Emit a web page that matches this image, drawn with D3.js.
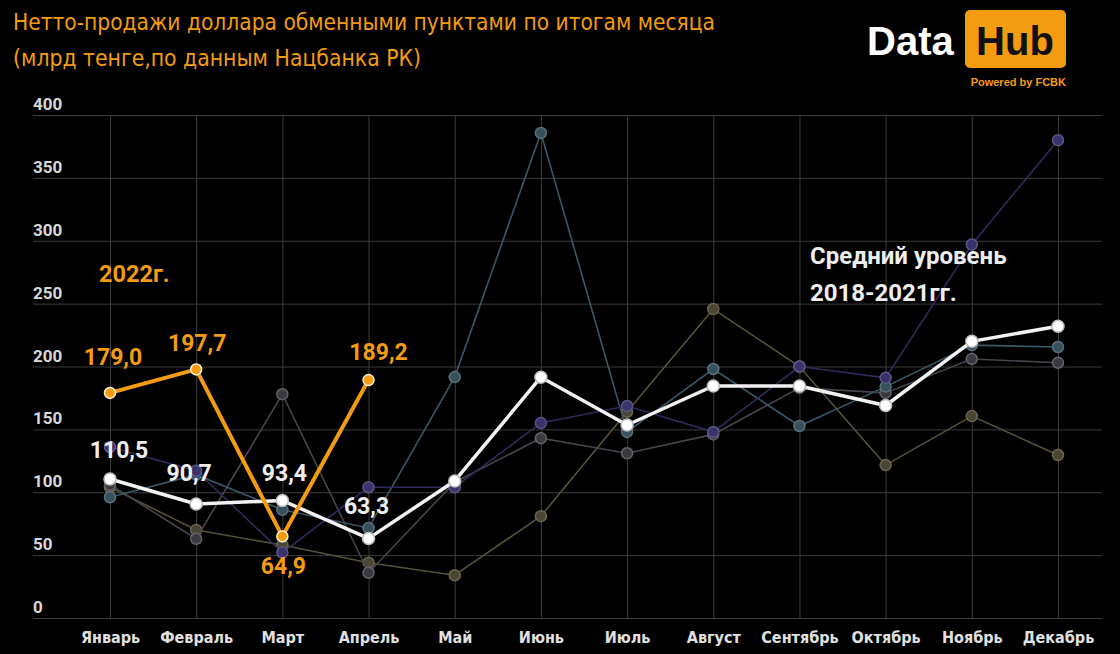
<!DOCTYPE html>
<html>
<head>
<meta charset="utf-8">
<script src="https://cdn.jsdelivr.net/npm/d3@7"></script>
<style>
  html, body { margin: 0; padding: 0; background: #000; }
  svg { display: block; }
</style>
</head>
<body>
<div id="chart"></div>
<script>
// data
const months = ["Январь", "Февраль", "Март", "Апрель", "Май", "Июнь", "Июль", "Август", "Сентябрь", "Октябрь", "Ноябрь", "Декабрь"];
const yTicks = [0, 50, 100, 150, 200, 250, 300, 350, 400];

// average 2018-2021 (white line)
const avgValues = [110.5, 90.7, 93.4, 63.3, 109, 191.5, 153.5, 184.5, 184.5, 169, 220, 232];
const avgLabels = ["110,5", "90,7", "93,4", "63,3"];

// 2022 (orange line)
const values2022 = [179.0, 197.7, 64.9, 189.2];
const labels2022 = ["179,0", "197,7", "64,9", "189,2"];

// single years in the background, faint
const yearPurple = [136, 117, 52, 104, 104, 155, 168.6, 148, 200, 191, 297, 380];
const yearTeal = [96, 114, 86, 71.6, 191.6, 385.7, 148, 198, 152.7, 184, 217, 215.5];
const yearOlive = [104, 70, 58, 44, 34, 81, 164, 245.7, 200, 121.6, 160.6, 129.6];
const yearGray = [106, 63, 178, 36, 108, 143, 131, 146, 183, 179, 206, 203];

const width = 1120;
const height = 654;

const svg = d3
  .select("#chart")
  .append("svg")
  .attr("width", width)
  .attr("height", height)
  .style("background", "#000");

const x = d3.scalePoint().domain(months).range([110, 1058]);
const y = d3.scaleLinear().domain([0, 400]).range([618, 115]);

const gridLeft = 33;
const gridRight = 1102;

// horizontal grid
svg
  .append("g")
  .selectAll("line")
  .data(yTicks)
  .enter()
  .append("line")
  .attr("x1", gridLeft)
  .attr("x2", gridRight)
  .attr("y1", (d) => y(d) + 0.5)
  .attr("y2", (d) => y(d) + 0.5)
  .attr("stroke", "#3c3c3c")
  .attr("stroke-width", 1);

// vertical grid
svg
  .append("g")
  .selectAll("line")
  .data(months)
  .enter()
  .append("line")
  .attr("x1", (d) => x(d) + 0.5)
  .attr("x2", (d) => x(d) + 0.5)
  .attr("y1", y(400))
  .attr("y2", y(0))
  .attr("stroke", "#3c3c3c")
  .attr("stroke-width", 1);

// y labels
svg
  .append("g")
  .selectAll("text")
  .data(yTicks)
  .enter()
  .append("text")
  .attr("x", gridLeft)
  .attr("y", (d) => y(d) - 5)
  .attr("font-family", "Roboto, sans-serif")
  .attr("font-weight", "bold")
  .attr("font-size", 17)
  .attr("fill", "#d8d8d8")
  .text((d) => d);

// x labels
const xAxis = d3.axisBottom(x).tickSize(0).tickPadding(14);
const xg = svg.append("g").attr("transform", `translate(0,${y(0)})`).call(xAxis);
xg.select(".domain").remove();
xg.selectAll("text")
  .attr("font-family", "'Liberation Sans Narrow', 'DejaVu Sans Condensed', sans-serif")
  .attr("font-weight", "bold")
  .attr("font-size", 16)
  .attr("fill", "#e0e0e0");

const line = d3
  .line()
  .x((d, i) => x(months[i]))
  .y((d) => y(d));

const faint = [
  { values: yearOlive, line: "#56513a", fill: "#4a4632", stroke: "#6a6650" },
  { values: yearGray, line: "#48434d", fill: "#3b393f", stroke: "#66626b" },
  { values: yearTeal, line: "#3a5765", fill: "#36505c", stroke: "#5a707c" },
  { values: yearPurple, line: "#2f2b5c", fill: "#38336c", stroke: "#5a5684" },
];

faint.forEach((s) => {
  const g = svg.append("g");
  g.append("path")
    .datum(s.values)
    .attr("d", line)
    .attr("fill", "none")
    .attr("stroke", s.line)
    .attr("stroke-width", 1.6);
  g.selectAll("circle")
    .data(s.values)
    .enter()
    .append("circle")
    .attr("cx", (d, i) => x(months[i]))
    .attr("cy", (d) => y(d))
    .attr("r", 5.5)
    .attr("fill", s.fill)
    .attr("stroke", s.stroke)
    .attr("stroke-width", 1.5);
});

// average line
svg
  .append("path")
  .datum(avgValues)
  .attr("d", line)
  .attr("fill", "none")
  .attr("stroke", "#f2f2f2")
  .attr("stroke-width", 3.5)
  .attr("stroke-linejoin", "round");

svg
  .append("g")
  .selectAll("circle")
  .data(avgValues)
  .enter()
  .append("circle")
  .attr("cx", (d, i) => x(months[i]))
  .attr("cy", (d) => y(d))
  .attr("r", 6)
  .attr("fill", "#ffffff")
  .attr("stroke", "#bdbdbd")
  .attr("stroke-width", 1.5);

// 2022 line
const orange = "#f39c12";
svg
  .append("path")
  .datum(values2022)
  .attr("d", line)
  .attr("fill", "none")
  .attr("stroke", orange)
  .attr("stroke-width", 4)
  .attr("stroke-linejoin", "round");

svg
  .append("g")
  .selectAll("circle")
  .data(values2022)
  .enter()
  .append("circle")
  .attr("cx", (d, i) => x(months[i]))
  .attr("cy", (d) => y(d))
  .attr("r", 5.5)
  .attr("fill", orange)
  .attr("stroke", "#fff2dc")
  .attr("stroke-width", 1.5);

// value labels (offsets from each point)
const avgLabelOffsets = [[9, -21], [-7, -23], [2, -20], [-2, -24]];
svg
  .append("g")
  .selectAll("text")
  .data(avgLabels)
  .enter()
  .append("text")
  .attr("x", (d, i) => x(months[i]) + avgLabelOffsets[i][0])
  .attr("y", (d, i) => y(avgValues[i]) + avgLabelOffsets[i][1])
  .attr("text-anchor", "middle")
  .attr("font-family", "Roboto, sans-serif")
  .attr("font-weight", "bold")
  .attr("font-size", 23)
  .attr("fill", "#eeeeee")
  .text((d) => d);

const labelOffsets2022 = [[3, -28], [1, -18], [1, 38], [10, -20]];
svg
  .append("g")
  .selectAll("text")
  .data(labels2022)
  .enter()
  .append("text")
  .attr("x", (d, i) => x(months[i]) + labelOffsets2022[i][0])
  .attr("y", (d, i) => y(values2022[i]) + labelOffsets2022[i][1])
  .attr("text-anchor", "middle")
  .attr("font-family", "Roboto, sans-serif")
  .attr("font-weight", "bold")
  .attr("font-size", 23)
  .attr("fill", orange)
  .text((d) => d);

// annotations
svg
  .append("text")
  .attr("x", 99)
  .attr("y", 282)
  .attr("font-family", "Roboto, sans-serif")
  .attr("font-weight", "bold")
  .attr("font-size", 23.5)
  .attr("fill", orange)
  .text("2022г.");

svg
  .append("text")
  .attr("x", 810)
  .attr("y", 264)
  .attr("font-family", "Roboto, sans-serif")
  .attr("font-weight", "bold")
  .attr("font-size", 24)
  .attr("fill", "#eeeeee")
  .text("Средний уровень");

svg
  .append("text")
  .attr("x", 810)
  .attr("y", 301)
  .attr("font-family", "Roboto, sans-serif")
  .attr("font-weight", "bold")
  .attr("font-size", 24)
  .attr("fill", "#eeeeee")
  .text("2018-2021гг.");

// title
const titleFont = "'Liberation Sans Narrow', 'DejaVu Sans Condensed', sans-serif";
svg
  .append("text")
  .attr("x", 13)
  .attr("y", 30)
  .attr("font-family", titleFont)
  .attr("font-size", 23)
  .attr("textLength", 702)
  .attr("lengthAdjust", "spacingAndGlyphs")
  .attr("fill", orange)
  .text("Нетто-продажи доллара обменными пунктами по итогам месяца");

svg
  .append("text")
  .attr("x", 13)
  .attr("y", 66)
  .attr("font-family", titleFont)
  .attr("font-size", 23)
  .attr("textLength", 408)
  .attr("lengthAdjust", "spacingAndGlyphs")
  .attr("fill", orange)
  .text("(млрд тенге,по данным Нацбанка РК)");

// logo
svg
  .append("text")
  .attr("x", 867)
  .attr("y", 55)
  .attr("font-family", "'Liberation Sans', Arial, sans-serif")
  .attr("font-weight", "bold")
  .attr("font-size", 40)
  .attr("fill", "#ffffff")
  .text("Data");

svg
  .append("rect")
  .attr("x", 965)
  .attr("y", 10)
  .attr("width", 101)
  .attr("height", 58)
  .attr("rx", 5)
  .attr("fill", orange);

svg
  .append("text")
  .attr("x", 1015)
  .attr("y", 55)
  .attr("text-anchor", "middle")
  .attr("font-family", "'Liberation Sans', Arial, sans-serif")
  .attr("font-weight", "bold")
  .attr("font-size", 40)
  .attr("fill", "#111")
  .text("Hub");

svg
  .append("text")
  .attr("x", 1066)
  .attr("y", 86)
  .attr("text-anchor", "end")
  .attr("font-family", "'Liberation Sans', Arial, sans-serif")
  .attr("font-weight", "bold")
  .attr("font-size", 11)
  .attr("fill", orange)
  .text("Powered by FCBK");
</script>
</body>
</html>
